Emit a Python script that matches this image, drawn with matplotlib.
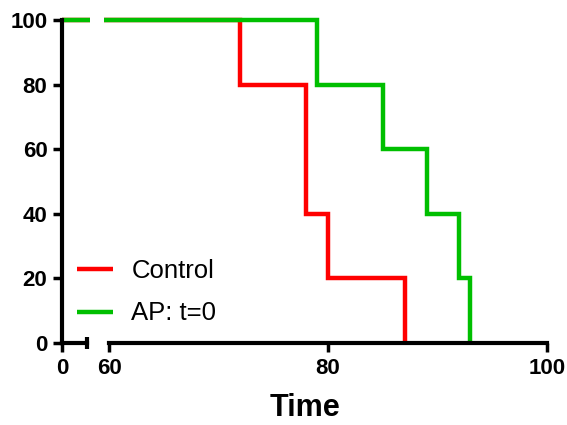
import matplotlib.pyplot as plt

plt.rcParams['font.family'] = ['Liberation Sans', 'DejaVu Sans']

# survival data (percent)
control_t = [0, 72, 78, 80, 87]
control_s = [100, 80, 40, 20, 0]
ap_t = [0, 79, 85, 89, 92, 93]
ap_s = [100, 80, 60, 40, 20, 0]
labels = ['Control', 'AP: t=0']
colors = ['#FF0000', '#00BF00']
yticks = [0, 20, 40, 60, 80, 100]

W, H = 567, 425
fig = plt.figure(figsize=(W / 100, H / 100), dpi=100)

# pixel layout
y0_px, y100_px = 343, 20
ppu_y = (y0_px - y100_px) / 100.0
ylo, yhi = -3, 103
ax_bot = y0_px + (0 - ylo) * ppu_y
ax_top = y100_px - (yhi - 100) * ppu_y
fb = (H - ax_bot) / H
fh = (ax_bot - ax_top) / H

# first segment: 0 .. 5 with 5 px per unit
ax1 = fig.add_axes([62 / W, fb, 27.5 / W, fh])
ax1.set_xlim(0, 5.5)
# second segment: 60 .. 100
ppu_x = (547 - 109) / 40.0
left2 = 109 - 0.5 * ppu_x
ax2 = fig.add_axes([left2 / W, fb, (547 - left2) / W, fh])
ax2.set_xlim(59.5, 100)

for ax in (ax1, ax2):
    ax.set_ylim(ylo, yhi)
    ax.patch.set_alpha(0)
    for t, s, c, lab in [(control_t, control_s, colors[0], labels[0]),
                         (ap_t, ap_s, colors[1], labels[1])]:
        ax.plot(t, s, drawstyle='steps-post', color=c, lw=3.2,
                solid_capstyle='butt', solid_joinstyle='miter', label=lab, zorder=2)
    ax.spines['top'].set_visible(False)
    ax.spines['right'].set_visible(False)
    ax.spines['bottom'].set_position(('data', 0))
    ax.spines['bottom'].set_linewidth(3)
    ax.spines['left'].set_linewidth(3)
    ax.spines['bottom'].set_zorder(3)
    ax.tick_params(axis='x', which='major', length=6.5, width=2.5, pad=4,
                   labelsize=16)
    ax.tick_params(axis='y', which='major', length=6.5, width=2.5, pad=4,
                   labelsize=16)

ax1.spines['bottom'].set_bounds(0, 5)
ax1.spines['left'].set_bounds(0, 100)
ax1.set_xticks([0])
ax1.set_xticks([5], minor=True)
ax1.tick_params(axis='x', which='minor', direction='inout', length=8, width=3)
ax1.set_yticks(yticks)
ax1.set_yticklabels([str(v) for v in yticks], fontweight='bold')
ax1.set_xticklabels(['0'], fontweight='bold')

ax2.spines['left'].set_visible(False)
ax2.spines['bottom'].set_bounds(60, 100)
ax2.set_yticks([])
ax2.set_xticks([60, 80, 100])
ax2.set_xticklabels(['60', '80', '100'], fontweight='bold')
ax2.set_xticks([60], minor=True)
ax2.tick_params(axis='x', which='minor', direction='inout', length=8, width=3)

fig.text(304.5 / W, 1 - 408 / H, 'Time', ha='center', va='center',
         fontsize=22, fontweight='bold')

handles, labs = ax2.get_legend_handles_labels()
fig.legend(handles, labs, loc='upper left',
           bbox_to_anchor=(77 / W, 1 - 259 / H), frameon=False,
           fontsize=18.5, handlelength=1.4, handletextpad=0.72,
           labelspacing=0.72, borderpad=0, borderaxespad=0)

fig.savefig('out.png', dpi=100)
